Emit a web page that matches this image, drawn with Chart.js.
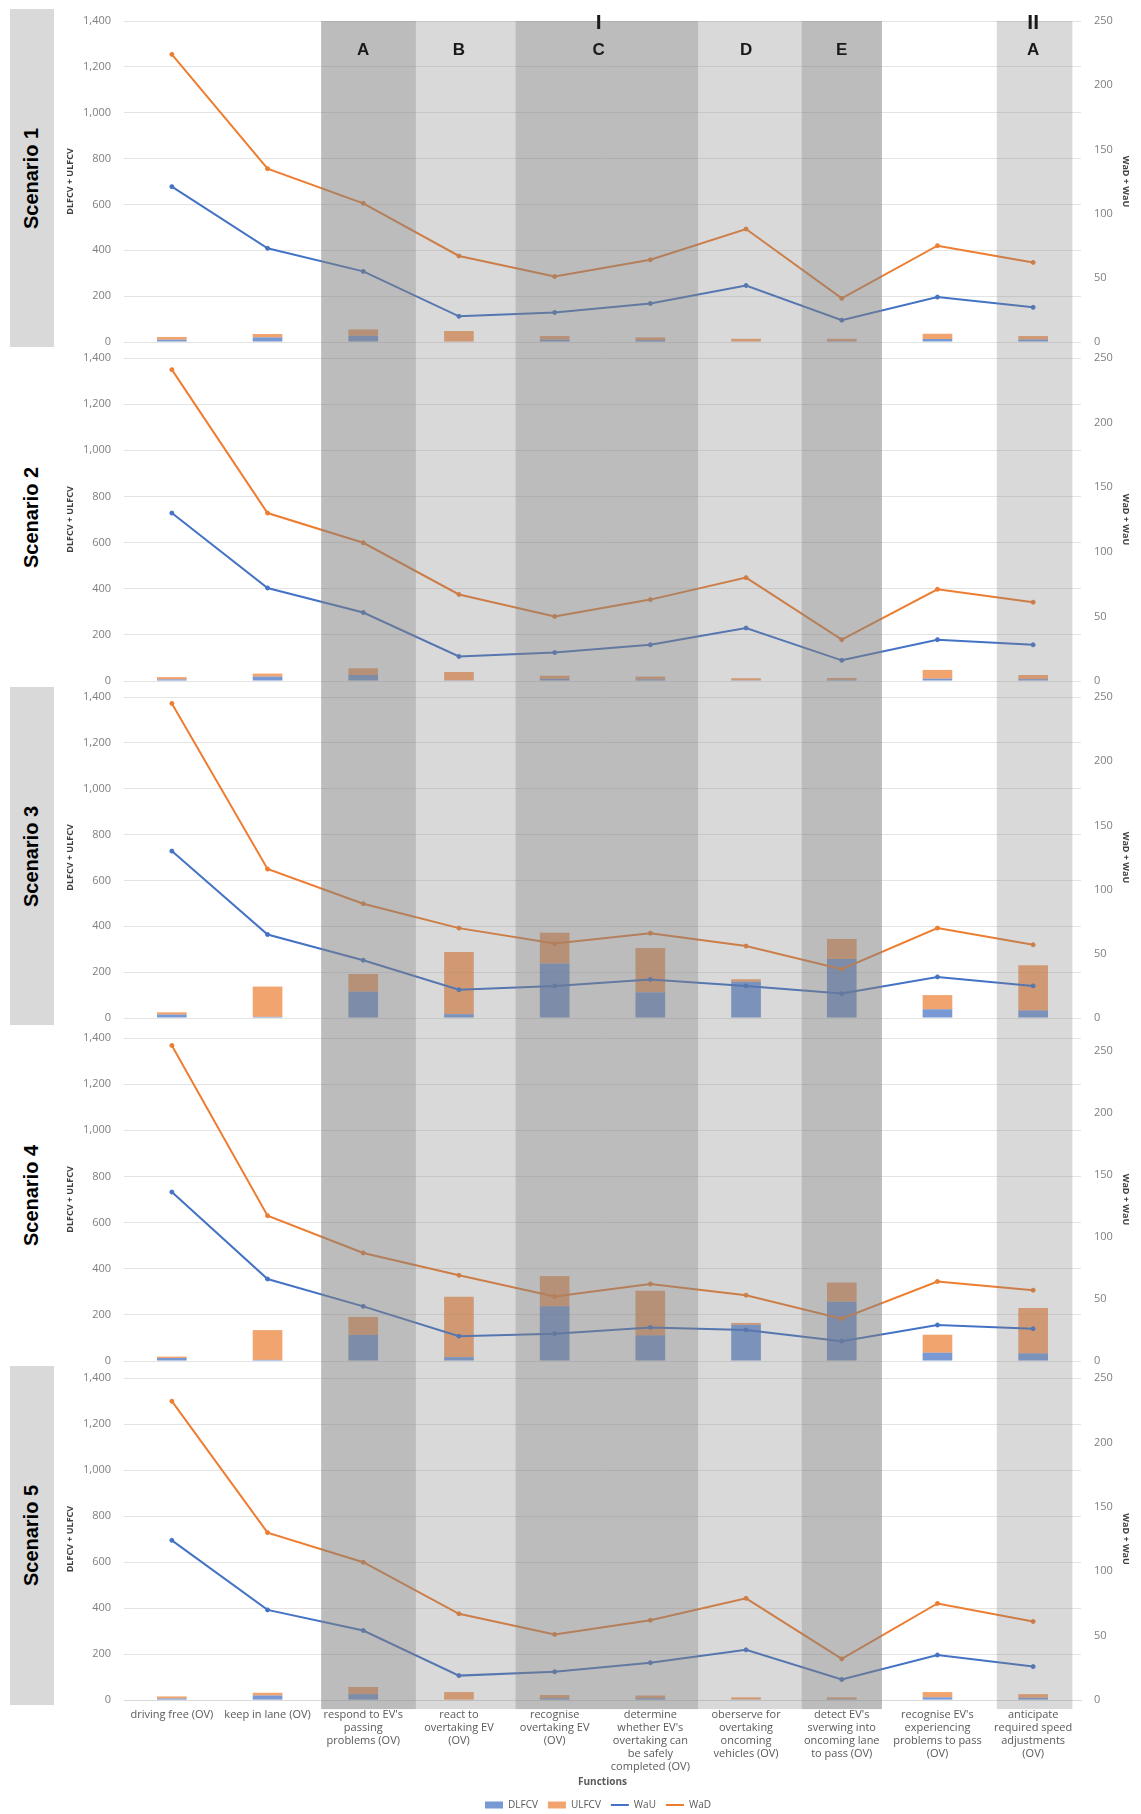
<!DOCTYPE html>
<html>
<head>
<meta charset="utf-8">
<script src="https://cdn.jsdelivr.net/npm/chart.js@4.4.1/dist/chart.umd.min.js"></script>
<style>
  html, body { margin: 0; padding: 0; background: #fff; }
  #wrap { position: relative; width: 1141px; height: 1814px; overflow: hidden; }
  .panel { position: absolute; left: 0; }
  .scen { position: absolute; left: 10px; width: 44px; display: flex; align-items: center; justify-content: center; }
  .scen span { transform: rotate(-90deg); white-space: nowrap; font: bold 20px "Liberation Sans", Arial, sans-serif; color: #000; }
</style>
</head>
<body>
<div id="wrap"></div>
<script>
// categories (x axis), wrapped like the original
const functions = [
  ["driving free (OV)"],
  ["keep in lane (OV)"],
  ["respond to EV's", "passing", "problems (OV)"],
  ["react to", "overtaking EV", "(OV)"],
  ["recognise", "overtaking EV", "(OV)"],
  ["determine", "whether EV's", "overtaking can", "be safely", "completed (OV)"],
  ["oberserve for", "overtaking", "oncoming", "vehicles (OV)"],
  ["detect EV's", "sverwing into", "oncoming lane", "to pass (OV)"],
  ["recognise EV's", "experiencing", "problems to pass", "(OV)"],
  ["anticipate", "required speed", "adjustments", "(OV)"]
]

const scenarios = ["Scenario 1", "Scenario 2", "Scenario 3", "Scenario 4", "Scenario 5"]

// Scenario 1
const dlfcv1 = [10, 20, 27, 2, 10, 8, 2, 4, 13, 11]
const ulfcv1 = [12, 15, 28, 46, 16, 12, 12, 10, 23, 15]
const wau1 = [121, 73, 55, 20, 23, 30, 44, 17, 35, 27]
const wad1 = [224, 135, 108, 67, 51, 64, 88, 34, 75, 62]
// Scenario 2
const dlfcv2 = [7, 19, 26, 3, 9, 7, 3, 5, 10, 8]
const ulfcv2 = [10, 13, 29, 36, 14, 12, 9, 8, 38, 18]
const wau2 = [130, 72, 53, 19, 22, 28, 41, 16, 32, 28]
const wad2 = [241, 130, 107, 67, 50, 63, 80, 32, 71, 61]
// Scenario 3
const dlfcv3 = [15, 5, 115, 17, 238, 112, 158, 257, 38, 33]
const ulfcv3 = [10, 132, 77, 271, 134, 193, 11, 88, 62, 197]
const wau3 = [130, 65, 45, 22, 25, 30, 25, 19, 32, 25]
const wad3 = [245, 116, 89, 70, 58, 66, 56, 38, 70, 57]
// Scenario 4
const dlfcv4 = [13, 5, 113, 17, 237, 111, 157, 257, 36, 33]
const ulfcv4 = [6, 129, 78, 262, 131, 194, 8, 83, 78, 197]
const wau4 = [136, 66, 44, 20, 22, 27, 25, 16, 29, 26]
const wad4 = [254, 117, 87, 69, 52, 62, 53, 34, 64, 57]
// Scenario 5
const dlfcv5 = [7, 20, 26, 2, 8, 8, 3, 4, 12, 10]
const ulfcv5 = [9, 12, 31, 33, 14, 12, 9, 8, 23, 16]
const wau5 = [124, 70, 54, 19, 22, 29, 39, 16, 35, 26]
const wad5 = [232, 130, 107, 67, 51, 62, 79, 32, 75, 61]

// axis ranges
const leftMax = 1400
const leftStep = 200
const rightMax = [250, 250, 250, 260, 250]
const rightStep = 50

// shaded groups, in category units
const bands = [
  { from: 1.56, to: 2.55, dark: true },
  { from: 2.55, to: 3.59, dark: false },
  { from: 3.59, to: 5.50, dark: true },
  { from: 5.50, to: 6.58, dark: false },
  { from: 6.58, to: 7.42, dark: true },
  { from: 8.62, to: 9.41, dark: false }
]
const bandLetters = [["A", 2], ["B", 3], ["C", 4.46], ["D", 6], ["E", 7], ["A", 9]]
const bandRoman = [["I", 4.46], ["II", 9]]

const series = [
  [dlfcv1, ulfcv1, wau1, wad1],
  [dlfcv2, ulfcv2, wau2, wad2],
  [dlfcv3, ulfcv3, wau3, wad3],
  [dlfcv4, ulfcv4, wau4, wad4],
  [dlfcv5, ulfcv5, wau5, wad5]
]

// canvas placement of each panel (last one runs a bit past the page, clipped)
const panels = [
  { top: 0, h: 350, pt: 21, pb: 8 },
  { top: 350, h: 339, pt: 8, pb: 8 },
  { top: 689, h: 339, pt: 8, pb: 10 },
  { top: 1028, h: 342, pt: 10, pb: 9 },
  { top: 1370, h: 450, pt: 8, pb: 0 }
]
const scenBoxes = [
  { top: 9, h: 338, fill: true },
  { top: 347, h: 340, fill: false },
  { top: 687, h: 338, fill: true },
  { top: 1025, h: 341, fill: false },
  { top: 1366, h: 339, fill: true }
]

const tickFont = { family: "'Open Sans', sans-serif", size: 11 }
const tickColor = "#7f7f7f"

// grey overlays across the panels, plus the A..E / I, II labels on top
const bandPlugin = {
  id: "bands",
  afterDatasetsDraw(chart, args, opts) {
    const { ctx, chartArea } = chart
    const x = chart.scales.x
    const y0 = opts.first ? chartArea.top : 0
    const y1 = opts.last ? chartArea.bottom + 9 : chart.height
    ctx.save()
    bands.forEach(b => {
      const l = x.getPixelForValue(b.from)
      const r = x.getPixelForValue(b.to)
      ctx.fillStyle = b.dark ? "rgba(128,128,128,0.53)" : "rgba(128,128,128,0.30)"
      ctx.fillRect(l, y0, r - l, y1 - y0)
    })
    if (opts.first) {
      ctx.fillStyle = "#1a1a1a"
      ctx.textAlign = "center"
      ctx.textBaseline = "middle"
      ctx.font = "bold 17px 'Liberation Sans', Arial, sans-serif"
      bandLetters.forEach(([t, at]) => ctx.fillText(t, x.getPixelForValue(at), chartArea.top + 29))
      ctx.font = "bold 21px 'Liberation Sans', Arial, sans-serif"
      bandRoman.forEach(([t, at]) => ctx.fillText(t, x.getPixelForValue(at), chartArea.top + 2))
    }
    ctx.restore()
  }
}

const wrap = document.getElementById("wrap")

scenBoxes.forEach((b, i) => {
  const d = document.createElement("div")
  d.className = "scen"
  d.style.top = b.top + "px"
  d.style.height = b.h + "px"
  if (b.fill) d.style.background = "#d9d9d9"
  d.innerHTML = "<span>" + scenarios[i] + "</span>"
  wrap.appendChild(d)
})

panels.forEach((p, i) => {
  const first = i === 0
  const last = i === panels.length - 1
  const [dl, ul, wu, wd] = series[i]

  const canvas = document.createElement("canvas")
  canvas.className = "panel"
  canvas.style.top = p.top + "px"
  canvas.width = 1141
  canvas.height = p.h
  wrap.appendChild(canvas)

  new Chart(canvas.getContext("2d"), {
    type: "bar",
    data: {
      labels: functions,
      datasets: [
        { type: "bar", label: "DLFCV", data: dl, backgroundColor: "rgba(68,114,196,0.72)", yAxisID: "y", stack: "s", order: 2, barPercentage: 0.31, categoryPercentage: 1 },
        { type: "bar", label: "ULFCV", data: ul, backgroundColor: "rgba(237,125,49,0.70)", yAxisID: "y", stack: "s", order: 2, barPercentage: 0.31, categoryPercentage: 1 },
        { type: "line", label: "WaU", data: wu, borderColor: "#4472C4", backgroundColor: "#4472C4", borderWidth: 2, pointRadius: 2, pointBorderWidth: 1, yAxisID: "y1", order: 1 },
        { type: "line", label: "WaD", data: wd, borderColor: "#ED7D31", backgroundColor: "#ED7D31", borderWidth: 2, pointRadius: 2, pointBorderWidth: 1, yAxisID: "y1", order: 1 }
      ]
    },
    options: {
      responsive: false,
      animation: false,
      devicePixelRatio: 1,
      layout: { padding: { top: p.pt, bottom: p.pb, left: 61, right: 6 } },
      scales: {
        x: {
          display: last,
          stacked: true,
          offset: true,
          grid: { display: false, drawTicks: false },
          border: { display: true, color: "#d9d9d9" },
          ticks: { autoSkip: false, maxRotation: 0, padding: 8, color: "#595959", font: { family: "'Open Sans', sans-serif", size: 11, lineHeight: 1.18 } },
          title: { display: true, text: "Functions", color: "#595959", font: { family: "'Open Sans', sans-serif", size: 10, weight: "bold" }, padding: { top: -5, bottom: 2 } }
        },
        y: {
          position: "left",
          stacked: true,
          min: 0,
          max: leftMax,
          afterFit: s => { s.width = 63 },
          // invisible tick marks keep the labels off the plot without growing the top/bottom padding
          grid: { color: "#e4e4e4", drawTicks: true, tickLength: 13, tickColor: "rgba(0,0,0,0)" },
          border: { display: false },
          ticks: { stepSize: leftStep, padding: 0, color: tickColor, font: tickFont, callback: v => v.toLocaleString("en-US") },
          title: { display: true, text: "DLFCV + ULFCV", color: "#404040", font: { family: "'Open Sans', sans-serif", size: 9, weight: "bold" }, padding: { top: 4, bottom: 4 } }
        },
        y1: {
          position: "right",
          min: 0,
          max: rightMax[i],
          afterFit: s => { s.width = 54 },
          grid: { display: true, drawOnChartArea: false, color: "rgba(0,0,0,0)", drawTicks: true, tickLength: 13, tickColor: "rgba(0,0,0,0)" },
          border: { display: false },
          ticks: { stepSize: rightStep, includeBounds: false, padding: 0, color: tickColor, font: tickFont },
          title: { display: true, text: "WaD + WaU", color: "#404040", font: { family: "'Open Sans', sans-serif", size: 9, weight: "bold" }, padding: { top: 4, bottom: 4 } }
        }
      },
      plugins: {
        bands: { first: first, last: last },
        tooltip: { enabled: false },
        legend: {
          display: last,
          position: "bottom",
          labels: {
            usePointStyle: true,
            pointStyleWidth: 18,
            boxHeight: 7,
            padding: 10,
            color: "#595959",
            font: { family: "'Open Sans', sans-serif", size: 10 },
            sort: (a, b) => a.datasetIndex - b.datasetIndex,
            generateLabels(chart) {
              const items = Chart.defaults.plugins.legend.labels.generateLabels(chart)
              items.forEach(it => {
                const ds = chart.data.datasets[it.datasetIndex]
                it.pointStyle = ds.type === "line" ? "line" : "rect"
                it.lineWidth = ds.type === "line" ? 2 : 0
              })
              return items
            }
          }
        }
      }
    },
    plugins: [bandPlugin]
  })
})
</script>
</body>
</html>
